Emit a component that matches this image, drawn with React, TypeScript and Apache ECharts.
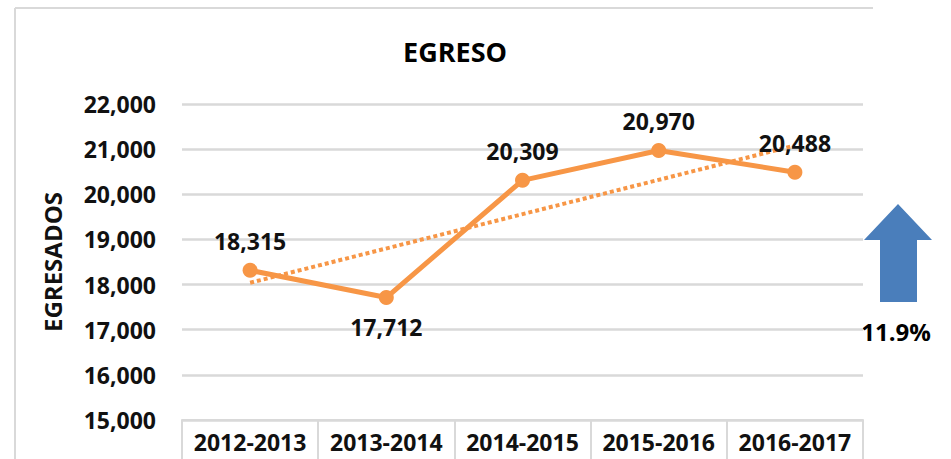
import React, { useEffect, useRef } from "react";
import * as echarts from "echarts";

const categories = ["2012-2013", "2013-2014", "2014-2015", "2015-2016", "2016-2017"];
const egresados = [18315, 17712, 20309, 20970, 20488];
// linear trendline end points
const trendline = [18040, null, null, null, 21080];
const yTicks = { min: 15000, max: 22000, interval: 1000 };
const titleText = "EGRESO";
const axisName = "EGRESADOS";
const growthText = "11.9%";

const FONT = "'Open Sans', 'Liberation Sans', sans-serif";
const ORANGE = "#F79646";
const GRID = "#D9D9D9";

export default function App() {
  const ref = useRef<HTMLDivElement>(null);
  useEffect(() => {
    if (!ref.current) return;
    const chart = echarts.init(ref.current, null, { renderer: "svg" });
    chart.setOption({
      animation: false,
      backgroundColor: "#ffffff",
      grid: { left: 182, right: 88, top: 104, bottom: 39 },
      xAxis: {
        type: "category",
        data: categories,
        boundaryGap: true,
        axisLine: { show: true, lineStyle: { color: GRID, width: 2 } },
        axisTick: { show: true, length: 45, interval: 0, lineStyle: { color: GRID, width: 2 } },
        axisLabel: {
          interval: 0,
          margin: 10,
          color: "#111",
          fontFamily: FONT,
          fontWeight: "bold",
          fontSize: 23,
        },
      },
      yAxis: {
        type: "value",
        min: yTicks.min,
        max: yTicks.max,
        interval: yTicks.interval,
        name: axisName,
        nameLocation: "middle",
        nameRotate: 90,
        nameGap: 118,
        nameTextStyle: { color: "#111", fontFamily: FONT, fontWeight: "bold", fontSize: 24 },
        axisLine: { show: false },
        axisTick: { show: false },
        splitLine: { show: true, lineStyle: { color: GRID, width: 2.5 } },
        axisLabel: {
          margin: 26,
          color: "#111",
          fontFamily: FONT,
          fontWeight: "bold",
          fontSize: 23,
          formatter: (v: number) => v.toLocaleString("en-US"),
        },
      },
      series: [
        {
          type: "line",
          data: trendline,
          connectNulls: true,
          symbol: "none",
          lineStyle: { color: ORANGE, width: 4, type: [4, 3] },
          z: 2,
        },
        {
          type: "line",
          data: egresados.map((v, i) =>
            i === 1 ? { value: v, label: { position: "bottom" } } : v
          ),
          symbol: "circle",
          symbolSize: 15,
          itemStyle: { color: ORANGE },
          lineStyle: { color: ORANGE, width: 5 },
          label: {
            show: true,
            position: "top",
            distance: 10,
            color: "#111",
            fontFamily: FONT,
            fontWeight: "bold",
            fontSize: 23,
            formatter: (p: any) => Number(p.value).toLocaleString("en-US"),
          },
          z: 3,
        },
      ],
      graphic: [
        {
          type: "line",
          shape: { x1: 15, y1: 8, x2: 873, y2: 8 },
          style: { stroke: GRID, lineWidth: 2 },
        },
        {
          type: "line",
          shape: { x1: 15, y1: 8, x2: 15, y2: 459 },
          style: { stroke: GRID, lineWidth: 2 },
        },
        {
          type: "text",
          x: 455,
          y: 51,
          style: {
            text: titleText,
            fill: "#000",
            font: `bold 27px ${FONT}`,
            textAlign: "center",
            textVerticalAlign: "middle",
          },
        },
        {
          type: "polygon",
          shape: {
            points: [
              [880, 302],
              [880, 240],
              [864, 240],
              [898, 204],
              [932, 240],
              [917, 240],
              [917, 302],
            ],
          },
          style: { fill: "#4A7EBB" },
        },
        {
          type: "text",
          x: 896,
          y: 331,
          style: {
            text: growthText,
            fill: "#000",
            font: `bold 24px ${FONT}`,
            textAlign: "center",
            textVerticalAlign: "middle",
          },
        },
      ],
    });
    return () => chart.dispose();
  }, []);
  return (
    <div
      ref={ref}
      style={{ position: "fixed", left: 0, top: 0, width: 951, height: 459 }}
    />
  );
}
